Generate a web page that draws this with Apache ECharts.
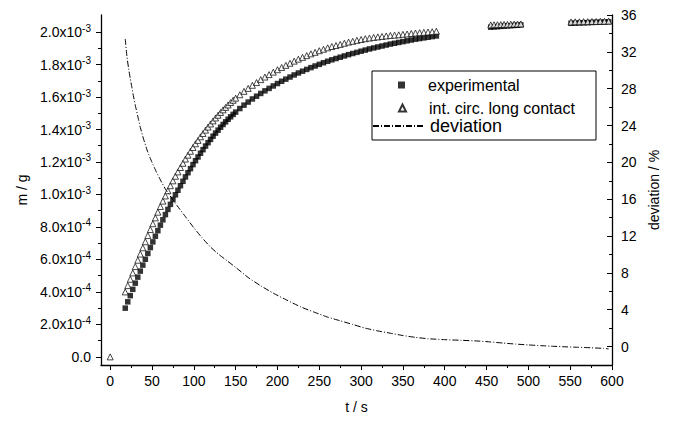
<!DOCTYPE html>
<html lang="en">
<head>
<meta charset="UTF-8">
<title>m / g vs t</title>
<script src="https://cdn.jsdelivr.net/npm/echarts@6/dist/echarts.min.js"></script>
<style>
  html, body { margin: 0; padding: 0; background: #fff; }
  #main { width: 673px; height: 427px; }
</style>
</head>
<body>
<div id="main"></div>
<script>
// time axis (s) shared by the two mass series
var tSample = [0, 18, 21, 24, 27, 30, 33, 36, 39, 42, 45, 48, 51, 54, 57, 60, 63, 66, 69, 72, 75, 78, 81, 84, 87, 90,
  93, 96, 99, 102, 105, 108, 111, 114, 117, 120, 123, 126, 129, 132, 135, 138, 141, 144, 147, 150,
  155, 160, 165, 170, 175, 180, 185, 190, 195, 200, 205, 210, 215, 220, 225, 230, 235, 240, 245, 250,
  255, 260, 265, 270, 275, 280, 285, 290, 295, 300, 305, 310, 315, 320, 325, 330, 335, 340, 345, 350,
  355, 360, 365, 370, 375, 380, 385, 390,
  455, 459, 463, 467, 471, 475, 479, 483, 487, 491,
  551, 556, 561, 566, 571, 576, 581, 586, 591, 596];

// mass in units of 1e-3 g
var expMg = [null, 0.300, 0.339, 0.377, 0.416, 0.454, 0.491, 0.528, 0.565, 0.601, 0.637, 0.673, 0.708, 0.743, 0.777, 0.811,
  0.844, 0.876, 0.908, 0.939, 0.969, 0.998, 1.026, 1.054, 1.081, 1.108, 1.134, 1.159, 1.184, 1.208, 1.231,
  1.254, 1.276, 1.298, 1.319, 1.339, 1.359, 1.378, 1.396, 1.414, 1.431, 1.447, 1.463, 1.478, 1.493, 1.507,
  1.529, 1.550, 1.569, 1.588, 1.605, 1.622, 1.638, 1.653, 1.668, 1.683, 1.697, 1.710, 1.723, 1.736, 1.748,
  1.759, 1.770, 1.781, 1.791, 1.801, 1.811, 1.820, 1.829, 1.837, 1.845, 1.853, 1.861, 1.868, 1.875, 1.882,
  1.889, 1.896, 1.902, 1.908, 1.914, 1.920, 1.926, 1.931, 1.936, 1.941, 1.946, 1.951, 1.956, 1.960, 1.964,
  1.968, 1.972, 1.976,
  2.030, 2.032, 2.033, 2.035, 2.036, 2.038, 2.039, 2.041, 2.042, 2.044,
  2.054, 2.055, 2.056, 2.057, 2.058, 2.059, 2.060, 2.061, 2.062, 2.063];

var modelMg = [0, 0.400, 0.439, 0.478, 0.517, 0.556, 0.595, 0.633, 0.672, 0.709, 0.747, 0.784, 0.820, 0.856, 0.891, 0.926,
  0.959, 0.991, 1.023, 1.054, 1.084, 1.112, 1.139, 1.166, 1.192, 1.218, 1.242, 1.266, 1.289, 1.312, 1.333,
  1.355, 1.375, 1.396, 1.415, 1.434, 1.453, 1.471, 1.488, 1.505, 1.521, 1.536, 1.551, 1.566, 1.580, 1.593,
  1.614, 1.635, 1.653, 1.672, 1.689, 1.707, 1.723, 1.738, 1.753, 1.768, 1.782, 1.795, 1.808, 1.821, 1.833,
  1.844, 1.855, 1.866, 1.875, 1.885, 1.894, 1.903, 1.911, 1.917, 1.924, 1.931, 1.938, 1.943, 1.949, 1.954,
  1.959, 1.963, 1.967, 1.970, 1.973, 1.976, 1.979, 1.981, 1.983, 1.986, 1.988, 1.991, 1.994, 1.996, 1.998,
  2.000, 2.002, 2.005,
  2.044, 2.045, 2.045, 2.046, 2.047, 2.047, 2.048, 2.049, 2.049, 2.050,
  2.062, 2.063, 2.063, 2.064, 2.064, 2.065, 2.065, 2.066, 2.066, 2.067];

// deviation (%) on the right axis
var devT = [18, 20, 22, 24, 26, 28, 30, 33, 36, 40, 45, 50, 55, 60, 66, 73, 80, 90, 100, 110, 120, 130, 140, 150,
  165, 180, 195, 210, 228, 245, 260, 275, 290, 305, 320, 335, 350, 365, 380, 390, 400, 420, 440, 455,
  470, 485, 500, 515, 530, 545, 560, 575, 590, 596];
var devPct = [33.4, 31.5, 30.2, 29.1, 28.1, 27.1, 26.2, 25.0, 23.8, 22.5, 21.1, 20.0, 19.0, 18.1, 17.1, 16.2, 15.3,
  14.1, 12.9, 11.8, 10.8, 10.0, 9.3, 8.6, 7.5, 6.6, 5.8, 5.1, 4.3, 3.7, 3.2, 2.8, 2.4, 2.0, 1.7, 1.45, 1.2,
  1.0, 0.85, 0.8, 0.75, 0.68, 0.6, 0.5, 0.38, 0.27, 0.18, 0.1, 0.03, -0.03, -0.08, -0.13, -0.2, -0.25];

// ticks
var tTicks = [0, 50, 100, 150, 200, 250, 300, 350, 400, 450, 500, 550, 600];
var tMinor = [25, 75, 125, 175, 225, 275, 325, 375, 425, 475, 525, 575];
var mTicks = [0, 0.2, 0.4, 0.6, 0.8, 1.0, 1.2, 1.4, 1.6, 1.8, 2.0];
var mMinor = [0.1, 0.3, 0.5, 0.7, 0.9, 1.1, 1.3, 1.5, 1.7, 1.9];
var devTicks = [0, 4, 8, 12, 16, 20, 24, 28, 32, 36];
var devMinor = [2, 6, 10, 14, 18, 22, 26, 30, 34];

var FONT = "'Liberation Sans', Arial, sans-serif";

function pairs(xs, ys) {
  var out = [];
  for (var i = 0; i < xs.length; i++) {
    if (ys[i] !== null) out.push([xs[i], ys[i]]);
  }
  return out;
}

// "2.0x10^-3" style labels
function massLabel(v) {
  if (Math.abs(v) < 1e-9) return '{n|0.0}';
  if (v < 0.999) return '{n|' + (v * 10).toFixed(1) + 'x10}{s|-4}';
  return '{n|' + v.toFixed(1) + 'x10}{s|-3}';
}

// fresh style objects for every axis
function lineOn() { return { show: true, onZero: false, lineStyle: { color: '#000', width: 1.3 } }; }
function lineOff() { return { show: false, onZero: false }; }
function ticks(vals, len, inside) {
  return { show: true, inside: inside, length: len, customValues: vals, lineStyle: { color: '#000', width: 1 } };
}
function nameStyle() { return { color: '#000', fontSize: 14, fontFamily: FONT }; }

// bare twin axis that only carries the minor ticks
function minorAxis(min, max, pos, vals, inside) {
  return {
    type: 'value', min: min, max: max, position: pos,
    axisLine: lineOff(), axisTick: ticks(vals, 3, inside),
    axisLabel: { show: false }, splitLine: { show: false }
  };
}

var myChart = echarts.init(document.getElementById('main'), null, { renderer: 'svg' });

var option = {
  backgroundColor: '#fff',
  animation: false,
  grid: { left: 101, top: 15, right: 61, bottom: 62 },
  graphic: [{
    type: 'rect',
    shape: { x: 372, y: 71, width: 224, height: 69 },
    style: { fill: 'none', stroke: '#000', lineWidth: 1 },
    z: 1
  }],
  legend: [
    {
      data: ['experimental'], left: 398, top: 77, padding: 0,
      itemWidth: 7, itemHeight: 7,
      textStyle: { color: '#000', fontSize: 16, fontFamily: FONT, padding: [0, 0, 0, 18] }
    },
    {
      data: ['int. circ. long contact'], left: 398, top: 100, padding: 0,
      itemWidth: 7, itemHeight: 7,
      textStyle: { color: '#000', fontSize: 16, fontFamily: FONT, padding: [0, 0, 0, 18] }
    },
    {
      data: ['deviation'], left: 372, top: 117, padding: 0,
      itemWidth: 52, itemHeight: 14,
      itemStyle: { opacity: 0 },
      textStyle: { color: '#000', fontSize: 18, fontFamily: FONT }
    }
  ],
  xAxis: [
    {
      type: 'value', min: -11, max: 600, position: 'bottom',
      name: 't / s', nameLocation: 'middle', nameGap: 35, nameTextStyle: nameStyle(),
      axisLine: lineOn(),
      axisTick: ticks(tTicks, 5, false),
      axisLabel: { customValues: tTicks, margin: 9, color: '#000', fontSize: 14, fontFamily: FONT },
      splitLine: { show: false }
    },
    minorAxis(-11, 600, 'bottom', tMinor, false)
  ],
  yAxis: [
    {
      type: 'value', min: -0.05, max: 2.105, position: 'left',
      name: 'm / g', nameLocation: 'middle', nameGap: 68, nameRotate: 90, nameTextStyle: nameStyle(),
      axisLine: lineOn(),
      axisTick: ticks(mTicks, 5, false),
      axisLabel: {
        customValues: mTicks, margin: 10, formatter: massLabel,
        rich: {
          n: { color: '#000', fontSize: 14, fontFamily: FONT, lineHeight: 18 },
          s: { color: '#000', fontSize: 10, fontFamily: FONT, lineHeight: 10, verticalAlign: 'top' }
        }
      },
      splitLine: { show: false }
    },
    minorAxis(-0.05, 2.105, 'left', mMinor, false),
    {
      type: 'value', min: -2, max: 36, position: 'right',
      name: 'deviation / %', nameLocation: 'middle', nameGap: 34, nameRotate: 90, nameTextStyle: nameStyle(),
      axisLine: lineOn(),
      axisTick: ticks(devTicks, 5, true),
      axisLabel: { customValues: devTicks, margin: 9, color: '#000', fontSize: 14, fontFamily: FONT },
      splitLine: { show: false }
    },
    minorAxis(-2, 36, 'right', devMinor, true)
  ],
  series: [
    {
      name: 'experimental',
      type: 'scatter',
      xAxisIndex: 0, yAxisIndex: 0,
      symbol: 'rect', symbolSize: 5.5,
      itemStyle: { color: '#000' },
      data: pairs(tSample, expMg)
    },
    {
      name: 'int. circ. long contact',
      type: 'scatter',
      xAxisIndex: 0, yAxisIndex: 0,
      symbol: 'triangle', symbolSize: 6,
      itemStyle: { color: '#fff', borderColor: '#000', borderWidth: 0.9 },
      data: pairs(tSample, modelMg)
    },
    {
      name: 'deviation',
      type: 'line',
      xAxisIndex: 0, yAxisIndex: 2,
      symbol: 'none', smooth: 0.2,
      lineStyle: { color: '#000', width: 1, type: [6, 2, 1, 2] },
      itemStyle: { color: '#000' },
      data: pairs(devT, devPct)
    }
  ]
};

myChart.setOption(option);
</script>
</body>
</html>
